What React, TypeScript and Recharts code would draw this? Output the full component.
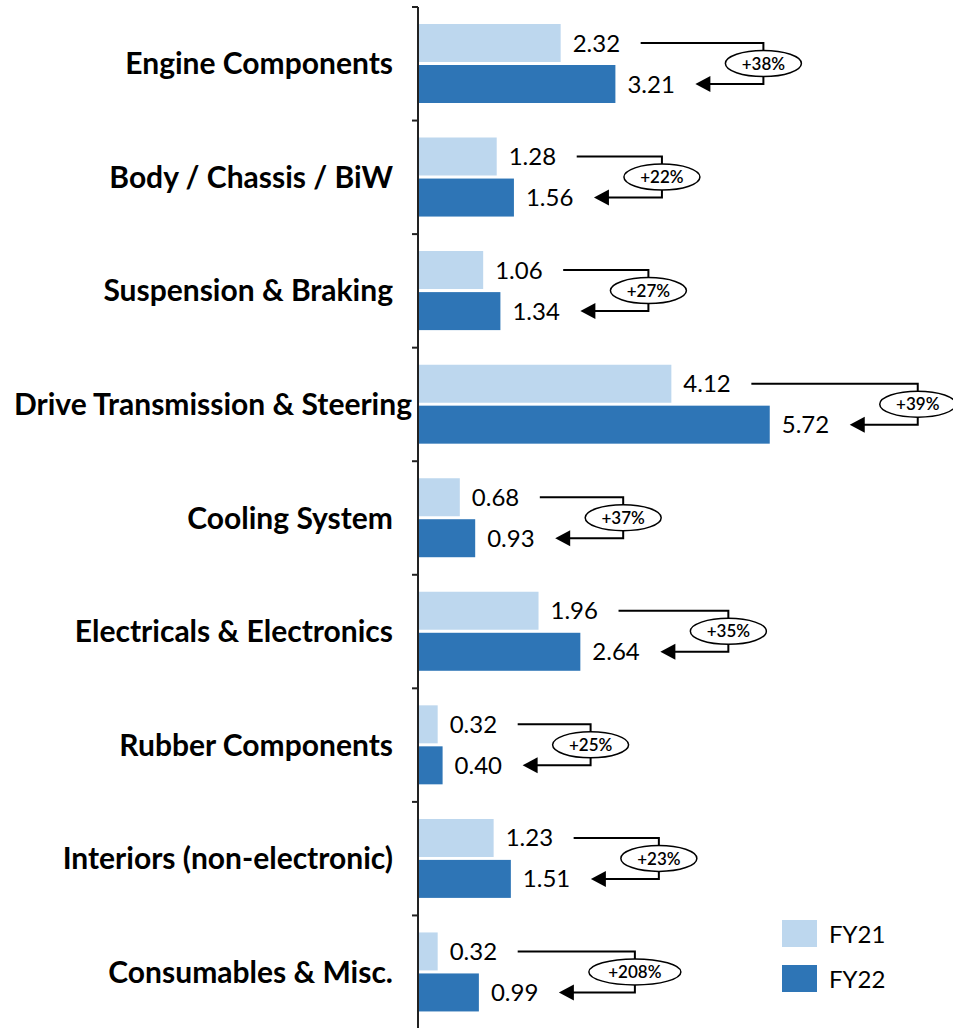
import { BarChart, Bar, XAxis, YAxis, LabelList } from 'recharts';

const categories = [
  'Engine Components',
  'Body / Chassis / BiW',
  'Suspension & Braking',
  'Drive Transmission & Steering',
  'Cooling System',
  'Electricals & Electronics',
  'Rubber Components',
  'Interiors (non-electronic)',
  'Consumables & Misc.',
];
const fy21 = [2.32, 1.28, 1.06, 4.12, 0.68, 1.96, 0.32, 1.23, 0.32];
const fy22 = [3.21, 1.56, 1.34, 5.72, 0.93, 2.64, 0.4, 1.51, 0.99];
const growth = ['+38%', '+22%', '+27%', '+39%', '+37%', '+35%', '+25%', '+23%', '+208%'];
const seriesNames = ['FY21', 'FY22'];

const data = categories.map((name, i) => ({ name, fy21: fy21[i], fy22: fy22[i] }));

const WIDTH = 953;
const HEIGHT = 1029;
const TOP = 7;
const AXIS_W = 418;
const BAR = 38;
const GAP = 3;
const BAND = (HEIGHT - TOP) / categories.length;
const VALUE_W = 46; // rough width of a "d.dd" value label
const FONT = 'Lato, "Open Sans", sans-serif';
const LIGHT = '#BDD7EE';
const DARK = '#2E75B6';
const COLORS = [LIGHT, DARK];

const CategoryTick = (props: any) => {
  const { x, y, payload } = props;
  const label = payload.value as string;
  const long = label.length > 26;
  const last = label === categories[categories.length - 1];
  return (
    <g>
      <line x1={x - 6} x2={x} y1={y - BAND / 2} y2={y - BAND / 2} stroke="#222" strokeWidth={2} />
      {last && <line x1={x - 6} x2={x} y1={y + BAND / 2} y2={y + BAND / 2} stroke="#222" strokeWidth={2} />}
      <text
        x={long ? x - 6 : x - 25}
        y={y}
        dy="0.35em"
        textAnchor="end"
        fontFamily={FONT}
        fontWeight={700}
        fontSize={30}
        fill="#000"
      >
        {label}
      </text>
    </g>
  );
};

// FY22 bar plus the growth bracket running from the FY21 label down to the FY22 label
const Fy22Shape = (props: any) => {
  const { x, y, width, height, index } = props;
  const unit = width / fy22[index];
  const end21 = x + fy21[index] * unit;
  const end22 = x + width;
  const y21 = y - GAP - height / 2;
  const y22 = y + height / 2;
  const start = end21 + 12 + VALUE_W + 22;
  const tip = end22 + 12 + VALUE_W + 22;
  const rx = growth[index].length > 4 ? 46 : 38;
  const bx = tip + 30 + rx;
  const cy = (y21 + y22) / 2;
  return (
    <g>
      <rect x={x} y={y} width={width} height={height} fill={DARK} />
      <polyline
        points={`${start},${y21} ${bx},${y21} ${bx},${y22} ${tip + 12},${y22}`}
        fill="none"
        stroke="#000"
        strokeWidth={2}
      />
      <polygon points={`${tip},${y22} ${tip + 15},${y22 - 8} ${tip + 15},${y22 + 8}`} fill="#000" />
      <ellipse cx={bx} cy={cy} rx={rx} ry={13} fill="#fff" stroke="#000" strokeWidth={1.5} />
      <text
        x={bx}
        y={cy}
        dy="0.36em"
        textAnchor="middle"
        fontFamily={FONT}
        fontWeight={600}
        fontSize={17}
        fill="#000"
      >
        {growth[index]}
      </text>
    </g>
  );
};

const LegendBox = () => (
  <div
    style={{
      position: 'absolute',
      left: 782,
      top: 920,
      fontFamily: FONT,
      fontSize: 24,
      color: '#000',
    }}
  >
    {seriesNames.map((label, i) => (
      <div key={label} style={{ display: 'flex', alignItems: 'center', height: 27, marginBottom: 18 }}>
        <span
          style={{ width: 35, height: 27, background: COLORS[i], display: 'inline-block', marginRight: 12 }}
        />
        {label}
      </div>
    ))}
  </div>
);

const valueFormat = (v: any) => Number(v).toFixed(2);

export default function App() {
  return (
    <div
      style={{
        position: 'absolute',
        left: 0,
        top: 0,
        width: WIDTH,
        height: 1028,
        overflow: 'hidden',
        background: '#fff',
      }}
    >
      <BarChart
        width={WIDTH}
        height={HEIGHT}
        data={data}
        layout="vertical"
        margin={{ top: TOP, right: 0, bottom: 0, left: 0 }}
        barSize={BAR}
        barGap={GAP}
      >
        <XAxis type="number" domain={[0, 8.7]} hide />
        <YAxis
          type="category"
          dataKey="name"
          width={AXIS_W}
          tickLine={false}
          tickSize={0}
          tickMargin={0}
          axisLine={{ stroke: '#222', strokeWidth: 2 }}
          tick={<CategoryTick />}
          interval={0}
        />
        <Bar dataKey="fy21" name={seriesNames[0]} fill={LIGHT} isAnimationActive={false}>
          <LabelList
            dataKey="fy21"
            position="right"
            offset={12}
            fontFamily={FONT}
            fontSize={24}
            fill="#000"
            formatter={valueFormat}
          />
        </Bar>
        <Bar dataKey="fy22" name={seriesNames[1]} fill={DARK} shape={<Fy22Shape />} isAnimationActive={false}>
          <LabelList
            dataKey="fy22"
            position="right"
            offset={12}
            fontFamily={FONT}
            fontSize={24}
            fill="#000"
            formatter={valueFormat}
          />
        </Bar>
      </BarChart>
      <LegendBox />
    </div>
  );
}
